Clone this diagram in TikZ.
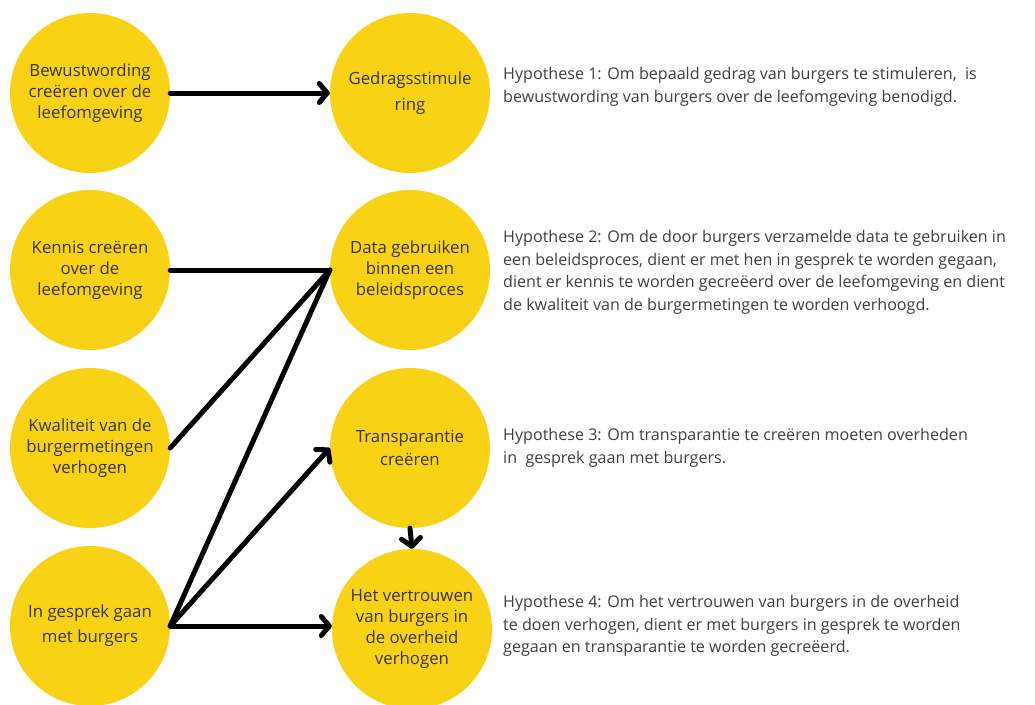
\documentclass[tikz,border=0pt]{standalone}
\usepackage{fontspec}
\setmainfont{Open Sans}
\usetikzlibrary{arrows.meta}
\definecolor{circfill}{HTML}{F8D214}
\definecolor{circtext}{HTML}{3A3520}
\definecolor{hyptext}{HTML}{404040}
\tikzset{
  bubble/.style={circle, fill=circfill, minimum size=160pt, inner sep=0pt,
    align=center, text=circtext, font=\fontsize{16.8}{21}\selectfont},
  hyp/.style={anchor=north west, inner sep=0pt, align=left, text=hyptext,
    font=\fontsize{16.1}{22.7}\selectfont},
  conn/.style={line width=5pt, black, line cap=round},
  arr/.style={conn, -{Straight Barb[length=8pt,width=19pt,round]}},
}
\begin{document}
\begin{tikzpicture}[x=1pt,y=-1pt]
\useasboundingbox[fill=white] (0,0) rectangle (1035,704);
\node[bubble] (bew) at (90,93) {Bewustwording\\creëren over de\\leefomgeving};
\node[bubble, font=\fontsize{16.8}{26}\selectfont] (ged) at (410,93) {Gedragsstimule\\ring};
\node[bubble] (ken) at (90,270) {Kennis creëren\\over de\\leefomgeving};
\node[bubble] (dat) at (410,270) {Data gebruiken\\binnen een\\beleidsproces};
\node[bubble] (kwa) at (90,448) {Kwaliteit van de\\burgermetingen\\verhogen};
\node[bubble, font=\fontsize{16.8}{23}\selectfont] (tra) at (410,448) {Transparantie\\creëren};
\node[bubble, font=\fontsize{16.8}{25}\selectfont] (ges) at (90,626) {In gesprek gaan\\met burgers};
\node[bubble] (ver) at (412,629) {Het vertrouwen\\van burgers in\\de overheid\\verhogen};

\node[hyp] (h1) at (503,67) {Hypothese 1: Om bepaald gedrag van burgers te stimuleren,\ \ is\\bewustwording van burgers over de leefomgeving benodigd.};
\node[hyp] (h2) at (503,230) {Hypothese 2: Om de door burgers verzamelde data te gebruiken in\\een beleidsproces, dient er met hen in gesprek te worden gegaan,\\dient er kennis te worden gecreëerd over de leefomgeving en dient\\de kwaliteit van de burgermetingen te worden verhoogd.};
\node[hyp] (h3) at (503,428) {Hypothese 3: Om transparantie te creëren moeten overheden\\in\ \ gesprek gaan met burgers.};
\node[hyp] (h4) at (503,595) {Hypothese 4: Om het vertrouwen van burgers in de overheid\\te doen verhogen, dient er met burgers in gesprek te worden\\gegaan en transparantie te worden gecreëerd.};

\draw[arr] (bew.east) -- (ged.west);
\draw[conn] (ken.east) -- (dat.west);
\draw[conn] (kwa.east) -- (dat.west);
\draw[conn] (ges.east) -- (dat.west);
\draw[arr] (ges.east) -- (tra.west);
\draw[arr] (ges.east) -- (ver.west |- ges.east);
\draw[arr] (tra.south) -- (ver.north);
\end{tikzpicture}
\end{document}
